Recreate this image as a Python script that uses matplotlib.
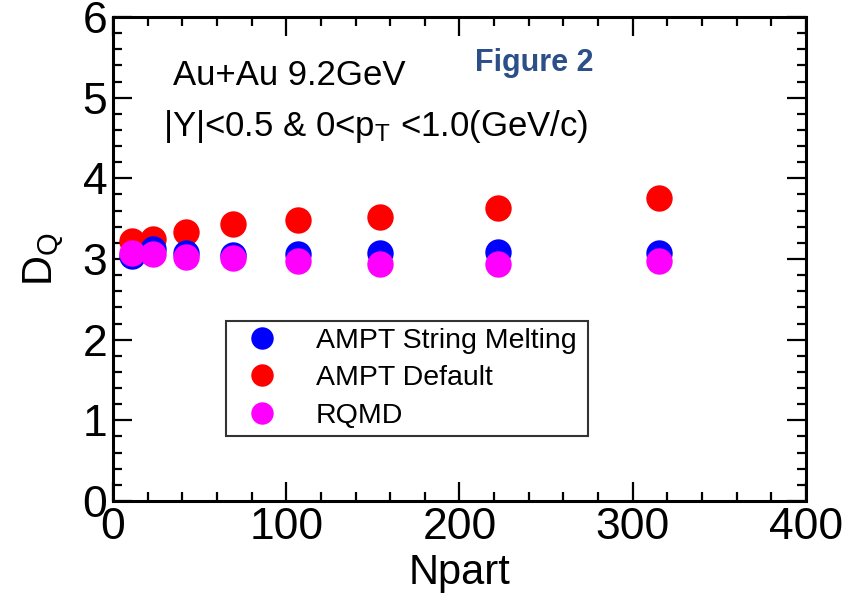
"""
D_Q vs Npart, Au+Au 9.2 GeV, model comparison
"""
import matplotlib
matplotlib.use("Agg")
import matplotlib.pyplot as plt
from matplotlib.ticker import MultipleLocator

plt.rcParams['font.family'] = ['Liberation Sans', 'DejaVu Sans']
plt.rcParams['mathtext.fontset'] = 'custom'
plt.rcParams['mathtext.rm'] = 'Liberation Sans'
plt.rcParams['mathtext.it'] = 'Liberation Sans'

# values
npart = [11, 23, 42, 69, 107, 154, 222, 315]
dq_default = [3.22, 3.25, 3.33, 3.43, 3.48, 3.52, 3.63, 3.75]
dq_string_melting = [3.04, 3.12, 3.08, 3.05, 3.06, 3.07, 3.09, 3.07]
dq_rqmd = [3.07, 3.06, 3.03, 3.01, 2.98, 2.94, 2.94, 2.97]

series = [
    ("AMPT String Melting", dq_string_melting, "#0000ff"),
    ("AMPT Default", dq_default, "#ff0000"),
    ("RQMD", dq_rqmd, "#ff00ff"),
]

fig = plt.figure(figsize=(8.42, 5.94), dpi=100)
ax = fig.add_axes([0.1342, 0.1566, 0.8230, 0.8148])

# draw order: red at the back, then blue, magenta on top
handles = {}
for name, vals, col in [series[1], series[0], series[2]]:
    h, = ax.plot(npart, vals, linestyle='none', marker='o', markersize=19,
                 color=col, markeredgewidth=0)
    handles[name] = h

ax.set_xlim(0, 400)
ax.set_ylim(0, 6)
ax.xaxis.set_major_locator(MultipleLocator(100))
ax.xaxis.set_minor_locator(MultipleLocator(20))
ax.yaxis.set_major_locator(MultipleLocator(1))
ax.yaxis.set_minor_locator(MultipleLocator(0.2))

for side in ax.spines.values():
    side.set_linewidth(2.2)
ax.tick_params(which='both', direction='in', top=True, right=True, width=1.6)
ax.tick_params(which='major', length=14, labelsize=32, pad=4)
ax.tick_params(which='minor', length=6.5)

ax.set_xlabel("Npart", fontsize=30, labelpad=4)
ax.set_ylabel("D$_{\\mathregular{Q}}$", fontsize=30, labelpad=12)

ax.text(34.6, 5.16, "Au+Au 9.2GeV", fontsize=25, va='baseline')
ax.text(29, 4.52, "|Y|<0.5 & 0<p$_{\\mathregular{T}}$ <1.0(GeV/c)", fontsize=25,
        va='baseline')
ax.text(209, 5.33, "Figure 2", fontsize=22, fontweight='bold', color='#2B4F86',
        va='baseline')

leg = ax.legend([handles[s[0]] for s in series], [s[0] for s in series],
                loc='upper left', bbox_to_anchor=(0.163, 0.134, 0.522, 0.238),
                mode='expand', fontsize=20.5, frameon=True, fancybox=False,
                edgecolor='black', borderpad=0.25, labelspacing=0.4,
                handlelength=2.0, handletextpad=0.9, borderaxespad=0,
                markerscale=0.85)
leg.get_frame().set_linewidth(1.5)

fig.savefig("out.png", dpi=100)
